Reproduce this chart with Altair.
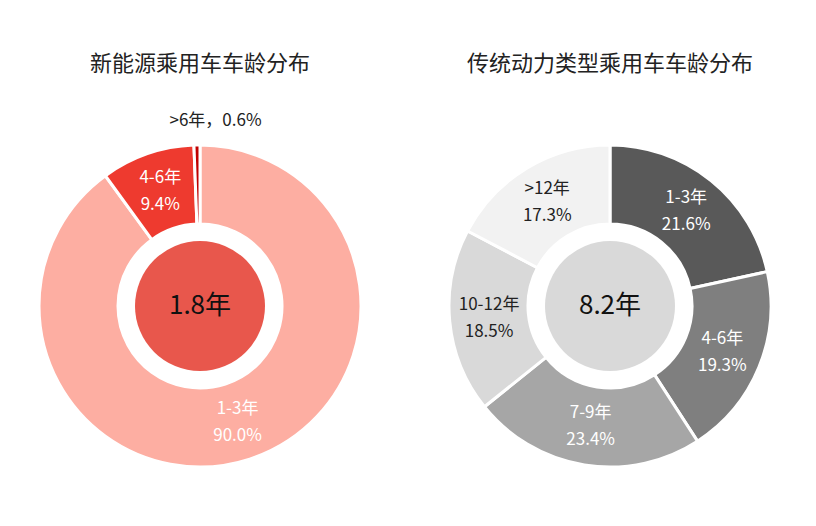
import altair as alt
import pandas as pd

FONT = "Noto Sans CJK SC"

# 新能源乘用车
nev_title = "新能源乘用车车龄分布"
nev_cats = ["1-3年", "4-6年", ">6年"]
nev_vals = [90.0, 9.4, 0.6]
nev_colors = ["#FDAEA2", "#EE3A2F", "#C00000"]
nev_text_colors = ["#FFFFFF", "#FFFFFF", "#222222"]
nev_inside = [True, True, False]
nev_avg = "1.8年"
nev_center_color = "#E8574C"

# 传统动力乘用车
ice_title = "传统动力类型乘用车车龄分布"
ice_cats = ["1-3年", "4-6年", "7-9年", "10-12年", ">12年"]
ice_vals = [21.6, 19.3, 23.4, 18.5, 17.3]
ice_colors = ["#595959", "#7F7F7F", "#A6A6A6", "#D9D9D9", "#F2F2F2"]
ice_text_colors = ["#FFFFFF", "#FFFFFF", "#FFFFFF", "#222222", "#222222"]
ice_inside = [True, True, True, True, True]
ice_avg = "8.2年"
ice_center_color = "#D9D9D9"


def panel(title, cats, vals, colors, tcolors, inside, avg, center_color):
    df = pd.DataFrame({
        "idx": list(range(len(cats))),
        "cat": cats,
        "val": vals,
        "tc": tcolors,
        "inner": [f"{c}\n{v:.1f}%" if ins else "" for c, v, ins in zip(cats, vals, inside)],
        "outer": ["" if ins else f"{c}，{v:.1f}%" for c, v, ins in zip(cats, vals, inside)],
    })
    base = alt.Chart(df).encode(
        theta=alt.Theta("val:Q", stack=True),
        order=alt.Order("idx:Q"),
    )
    arcs = base.mark_arc(outerRadius=161, innerRadius=82, stroke="white", strokeWidth=3).encode(
        color=alt.Color("cat:N", scale=alt.Scale(domain=cats, range=colors), legend=None)
    )
    inner = base.mark_text(radius=121.5, dy=-13, font=FONT, fontSize=17, lineBreak="\n",
                           lineHeight=27, baseline="middle", align="center").encode(
        text="inner:N",
        color=alt.Color("tc:N", scale=None),
    )
    outer = base.mark_text(radius=185, dx=19, font=FONT, fontSize=17, color="#222222",
                           baseline="middle", align="center").encode(
        text="outer:N",
    )
    cdf = pd.DataFrame({"avg": [avg]})
    circle = alt.Chart(cdf).mark_arc(outerRadius=65, innerRadius=0, theta=0, theta2=6.2832,
                                     color=center_color).encode(
        color=alt.value(center_color)
    )
    ctext = alt.Chart(cdf).mark_text(font=FONT, fontSize=26, color="#111111",
                                     baseline="middle", align="center").encode(
        text="avg:N"
    )
    return alt.layer(arcs, inner, outer, circle, ctext).resolve_scale(
        color="independent", theta="independent"
    ).properties(
        width=374, height=400,
        title=alt.TitleParams(title, font=FONT, fontSize=22, fontWeight="normal",
                              color="#222222", offset=30, frame="group", anchor="middle"),
    )


left = panel(nev_title, nev_cats, nev_vals, nev_colors, nev_text_colors, nev_inside,
             nev_avg, nev_center_color)
right = panel(ice_title, ice_cats, ice_vals, ice_colors, ice_text_colors, ice_inside,
              ice_avg, ice_center_color)

chart = alt.hconcat(left, right, spacing=36).properties(
    padding={"left": 5, "top": 45, "right": 5, "bottom": 5}
).configure_view(stroke=None).configure(background="white")

chart.save("out.html", embed_options={"renderer": "svg", "actions": False})
